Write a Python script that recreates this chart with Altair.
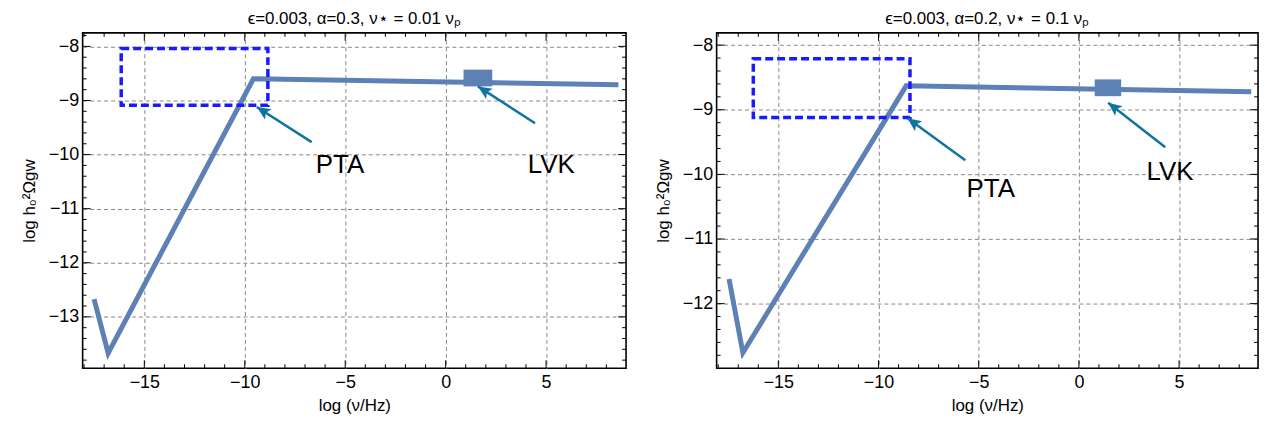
import math
import altair as alt
import pandas as pd

FONT = "Liberation Sans"
LINE = "#5e81b5"
TEAL = "#0f74a0"
BLUE = "#1a1aff"

# ---- data ----
titles = ["ϵ=0.003, α=0.3, ν⋆ = 0.01 νₚ", "ϵ=0.003, α=0.2, ν⋆ = 0.1 νₚ"]

left_x = [-17.5, -16.8, -9.57, 8.6]
left_y = [-12.67, -13.67, -8.60, -8.71]
right_x = [-17.46, -16.77, -8.62, 8.6]
right_y = [-11.62, -12.76, -8.63, -8.72]

# PTA boxes: x0, x1, y0, y1
left_pta = [-16.15, -8.85, -8.04, -9.09]
right_pta = [-16.25, -8.43, -8.21, -9.12]
# LVK markers: x0, x1, y0, y1
left_lvk = [0.89, 2.32, -8.43, -8.74]
right_lvk = [0.79, 2.11, -8.53, -8.79]

# arrows: tail x, tail y, head x, head y
left_arrows = [[-6.67, -9.77, -9.40, -9.12], [4.45, -9.42, 1.61, -8.74]]
right_arrows = [[-5.67, -9.78, -8.55, -9.13], [4.31, -9.58, 1.46, -8.89]]

label_text = ["PTA", "LVK"]
left_labels = [[-5.26, -10.2], [5.26, -10.2]]
right_labels = [[-4.4, -10.22], [4.55, -9.96]]

left_xdom = [-18.07, 8.98]
left_ydom = [-13.95, -7.75]
right_xdom = [-18.08, 8.94]
right_ydom = [-13.0, -7.81]

x_major = [-15, -10, -5, 0, 5]
x_minor = [-18, -17, -16, -14, -13, -12, -11, -9, -8, -7, -6, -4, -3, -2, -1,
           1, 2, 3, 4, 6, 7, 8]
left_y_major = [-13, -12, -11, -10, -9, -8]
right_y_major = [-12, -11, -10, -9, -8]

ARROW_PATH = "M0,0L0.45,1L0,0.78L-0.45,1Z"


def yminor(lo, hi):
    vals = []
    k = int(math.ceil(lo * 5))
    while k / 5 <= hi:
        if k % 5 != 0:
            vals.append(round(k / 5, 1))
        k += 1
    return vals


def tick_rules(values, scale, channel, W, H, length):
    df = pd.DataFrame({"v": values})
    base = alt.Chart(df).mark_rule(color="black", strokeWidth=1)
    if channel == "x":
        enc_x = alt.X("v:Q", scale=scale)
        bottom = base.encode(x=enc_x, y=alt.value(H), y2=alt.value(H - length))
        top = base.encode(x=enc_x, y=alt.value(0), y2=alt.value(length))
        return [bottom, top]
    enc_y = alt.Y("v:Q", scale=scale)
    left = base.encode(y=enc_y, x=alt.value(0), x2=alt.value(length))
    right = base.encode(y=enc_y, x=alt.value(W), x2=alt.value(W - length))
    return [left, right]


def panel(title, lx, ly, pta, lvk, arrows, labels, xdom, ydom, ymaj, W, H):
    xs = alt.Scale(domain=xdom, nice=False, zero=False)
    ys = alt.Scale(domain=ydom, nice=False, zero=False)
    line_df = pd.DataFrame({"x": lx, "y": ly})

    x_main = alt.Axis(values=x_major, grid=True, ticks=False, domain=False, format="d",
                      labelPadding=5, title="log (ν/Hz)", titlePadding=6)
    y_main = alt.Axis(values=ymaj, grid=True, ticks=False, domain=False, format="d",
                      labelPadding=4, title="log h₀²Ωgw", titlePadding=8,
                      minExtent=36, maxExtent=36)

    line = alt.Chart(line_df).mark_line(color=LINE, strokeWidth=5, clip=True).encode(
        x=alt.X("x:Q", scale=xs, axis=x_main),
        y=alt.Y("y:Q", scale=ys, axis=y_main),
    )

    box_df = pd.DataFrame({"x0": [pta[0]], "x1": [pta[1]], "y0": [pta[2]], "y1": [pta[3]]})
    box = alt.Chart(box_df).mark_rect(fillOpacity=0, stroke=BLUE, strokeWidth=3.5,
                                      strokeDash=[8, 4]).encode(
        x=alt.X("x0:Q", scale=xs), x2="x1:Q",
        y=alt.Y("y0:Q", scale=ys), y2="y1:Q",
    )

    lvk_df = pd.DataFrame({"x0": [lvk[0]], "x1": [lvk[1]], "y0": [lvk[2]], "y1": [lvk[3]]})
    lvkm = alt.Chart(lvk_df).mark_rect(color=LINE).encode(
        x=alt.X("x0:Q", scale=xs), x2="x1:Q",
        y=alt.Y("y0:Q", scale=ys), y2="y1:Q",
    )

    pxx = W / (xdom[1] - xdom[0])
    pxy = H / (ydom[1] - ydom[0])
    rows = []
    for tx, ty, hx, hy in arrows:
        dx = (hx - tx) * pxx
        dy = -(hy - ty) * pxy
        ang = math.degrees(math.atan2(dx, -dy)) % 360
        rows.append({"tx": tx, "ty": ty, "hx": hx, "hy": hy, "ang": ang})
    arr_df = pd.DataFrame(rows)
    shafts = alt.Chart(arr_df).mark_rule(color=TEAL, strokeWidth=2.5).encode(
        x=alt.X("tx:Q", scale=xs), y=alt.Y("ty:Q", scale=ys), x2="hx:Q", y2="hy:Q",
    )
    heads = alt.Chart(arr_df).mark_point(shape=ARROW_PATH, filled=True, size=750,
                                         color=TEAL, opacity=1, strokeWidth=0).encode(
        x=alt.X("hx:Q", scale=xs), y=alt.Y("hy:Q", scale=ys),
        angle=alt.Angle("ang:Q", scale=None),
    )

    lab_df = pd.DataFrame({"x": [l[0] for l in labels], "y": [l[1] for l in labels],
                           "t": label_text})
    texts = alt.Chart(lab_df).mark_text(fontSize=26, font=FONT, color="black").encode(
        x=alt.X("x:Q", scale=xs), y=alt.Y("y:Q", scale=ys), text="t:N",
    )

    ticks = []
    ticks += tick_rules(x_major, xs, "x", W, H, 8)
    ticks += tick_rules(x_minor, xs, "x", W, H, 4)
    ticks += tick_rules(ymaj, ys, "y", W, H, 8)
    ticks += tick_rules(yminor(ydom[0], ydom[1]), ys, "y", W, H, 4)

    return alt.layer(line, lvkm, box, shafts, heads, texts, *ticks).properties(
        width=W, height=H, title=alt.TitleParams(title)
    )


left = panel(titles[0], left_x, left_y, left_pta, left_lvk, left_arrows, left_labels,
             left_xdom, left_ydom, left_y_major, 546, 337)
right = panel(titles[1], right_x, right_y, right_pta, right_lvk, right_arrows, right_labels,
              right_xdom, right_ydom, right_y_major, 544, 337)

chart = alt.hconcat(left, right, spacing=26).configure(
    padding={"left": 12, "top": 0, "right": 5, "bottom": 0}
).configure_view(
    stroke="black", strokeWidth=1.6
).configure_axis(
    labelFont=FONT, titleFont=FONT, labelFontSize=18, titleFontSize=17,
    labelColor="black", titleColor="black", titleFontWeight="normal",
    gridColor="#888888", gridDash=[4, 3], gridWidth=1,
).configure_title(
    font=FONT, fontSize=17, fontWeight="normal", anchor="middle", offset=4, color="black"
)

chart.save("out.html", embed_options={"renderer": "svg", "actions": False})
